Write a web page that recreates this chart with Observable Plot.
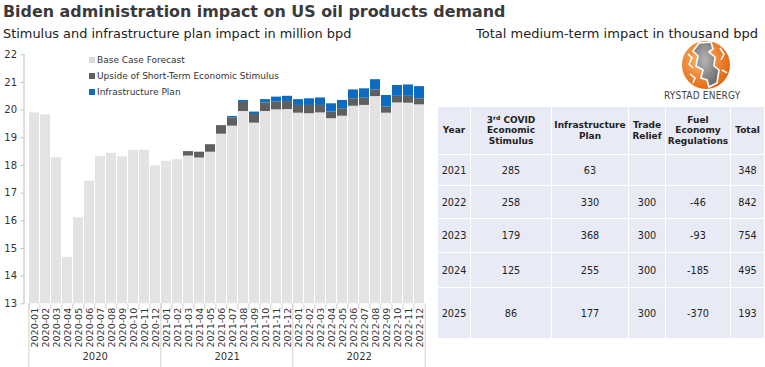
<!DOCTYPE html>
<html><head><meta charset="utf-8">
<script src="https://cdn.jsdelivr.net/npm/d3@7"></script>
<script src="https://cdn.jsdelivr.net/npm/@observablehq/plot@0.6"></script>
<style>
body{margin:0;background:#fff;font-family:"DejaVu Sans",Verdana,sans-serif;color:#333;}
#wrap{position:relative;width:765px;height:367px;overflow:hidden;}
#title{position:absolute;left:3px;top:2px;font-weight:bold;font-size:15.9px;color:#3a3a3a;white-space:nowrap;}
#sub{position:absolute;left:3px;top:26px;font-size:12.9px;color:#222;white-space:nowrap;}
#sub2{position:absolute;left:476px;top:26px;font-size:13px;color:#222;white-space:nowrap;}
#chart{position:absolute;left:0;top:46px;}
#legend{position:absolute;left:89px;top:54px;font-size:9px;color:#333;}
#legend div{height:16px;line-height:12px;white-space:nowrap;}
#legend span.sw{display:inline-block;width:6px;height:6px;margin-right:2px;vertical-align:0px;}
#logo{position:absolute;left:680px;top:40px;}
#brand{position:absolute;left:664px;top:90px;font-family:"DejaVu Sans Condensed","DejaVu Sans",sans-serif;font-size:10px;color:#444;letter-spacing:0.2px;white-space:nowrap;}
#tbl{position:absolute;left:437px;top:106px;border-collapse:collapse;table-layout:fixed;width:327px;}
#tbl td,#tbl th{background:#e8ebf5;border:1.5px solid #fff;text-align:center;padding:0;color:#222;}
#tbl th{font-size:9px;font-weight:bold;line-height:10.5px;}
#tbl td{font-size:9.7px;}
#tbl sup{font-size:6px;vertical-align:3px;line-height:0;}
</style></head>
<body><div id="wrap">
<div id="title">Biden administration impact on US oil products demand</div>
<div id="sub">Stimulus and infrastructure plan impact in million bpd</div>
<div id="sub2">Total medium-term impact in thousand bpd</div>
<div id="chart"></div>
<div id="legend"></div>
<svg id="logo" width="54" height="52" viewBox="0 0 54 52">
<defs><radialGradient id="og" cx="40%" cy="40%" r="65%"><stop offset="0" stop-color="#fcb66e"/><stop offset="1" stop-color="#e2630d"/></radialGradient>
<radialGradient id="gg" cx="45%" cy="40%" r="60%"><stop offset="0" stop-color="#b5b5b5"/><stop offset="1" stop-color="#6e6e6e"/></radialGradient></defs>
<circle cx="26" cy="25" r="24" fill="url(#og)"/>
<path d="M19 3 L31 2 L33 9 L29 12 L35 17 L34 26 L39 30 L37 43 L29 47 L27 40 L21 38 L23 30 L16 26 L18 16 L13 11 Z" fill="url(#gg)" stroke="#fff" stroke-width="1.6"/>
<path d="M8 14 L12 18 L9 24 L13 28 M40 8 L44 14 L41 20 M42 30 L47 33 M10 34 L15 38 L13 43" fill="none" stroke="#fff" stroke-width="1.6"/>
</svg>
<div id="brand">RYSTAD ENERGY</div>
<table id="tbl"></table>
</div>
<script>
// ---- chart data ----
const months = ["2020-01","2020-02","2020-03","2020-04","2020-05","2020-06","2020-07","2020-08","2020-09","2020-10","2020-11","2020-12",
"2021-01","2021-02","2021-03","2021-04","2021-05","2021-06","2021-07","2021-08","2021-09","2021-10","2021-11","2021-12",
"2022-01","2022-02","2022-03","2022-04","2022-05","2022-06","2022-07","2022-08","2022-09","2022-10","2022-11","2022-12"];
const baseCase = [19.90,19.83,18.28,14.68,16.11,17.43,18.32,18.44,18.31,18.55,18.55,17.99,
18.15,18.21,18.34,18.27,18.48,19.13,19.42,19.95,19.53,19.95,20.01,20.02,
19.89,19.87,19.90,19.69,19.78,20.14,20.17,20.49,19.89,20.26,20.25,20.19];
const stimulusUpside = [0,0,0,0,0,0,0,0,0,0,0,0,
0,0,0.16,0.21,0.27,0.31,0.30,0.33,0.31,0.31,0.29,0.29,
0.28,0.30,0.27,0.24,0.27,0.27,0.26,0.24,0.22,0.24,0.25,0.22];
const infrastructure = [0,0,0,0,0,0,0,0,0,0,0,0,
0,0,0,0,0,0,0.05,0.07,0.09,0.12,0.17,0.19,
0.21,0.24,0.27,0.30,0.30,0.32,0.34,0.37,0.42,0.39,0.41,0.44];
const seriesNames = ["Base Case Forecast","Upside of Short-Term Economic Stimulus","Infrastructure Plan"];
const seriesColors = ["#e4e2e4","#5f5f5f","#0b6cc1"];
const legendColors = ["#dcdadc","#5f5f5f","#0b6cc1"];
const yTicks = [13,14,15,16,17,18,19,20,21,22];
const yearStarts = ["2020-01","2021-01","2022-01"];
const yearMids = ["2020-06","2021-06","2022-06"];
const yearLabels = ["2020","2021","2022"];

// ---- table data ----
const tblHeaders = ["Year","3<sup>rd</sup> COVID<br>Economic<br>Stimulus","Infrastructure<br>Plan","Trade<br>Relief","Fuel<br>Economy<br>Regulations","Total"];
const tblYears = ["2021","2022","2023","2024","2025"];
const tblStimulus = [285,258,179,125,86];
const tblInfra = [63,330,368,255,177];
const tblTrade = [null,300,300,300,300];
const tblFuel = [null,-46,-93,-185,-370];
const tblTotal = [348,842,754,495,193];

const rows = [];
months.forEach((m,i)=>{
  rows.push({month:m, series:seriesNames[0], value:baseCase[i]});
  rows.push({month:m, series:seriesNames[1], value:stimulusUpside[i]});
  rows.push({month:m, series:seriesNames[2], value:infrastructure[i]});
});

const W = 440, H = 321, mL = 23.5, mR = 10.5;
const pIn = 0.1, pOut = 0.05;
const step = (W - mL - mR) / (months.length - pIn + 2*pOut);
const half = step/2;

const chart = Plot.plot({
  width: W, height: H,
  marginTop: 8.3, marginBottom: 63.7, marginLeft: mL, marginRight: mR,
  style: {fontFamily: "'DejaVu Sans', sans-serif", fontSize: "10px", color: "#333", background: "transparent"},
  x: {domain: months, paddingInner: pIn, paddingOuter: pOut, axis: null, label: null},
  y: {domain: [13, 22], axis: null, label: null},
  color: {domain: seriesNames, range: seriesColors},
  marks: [
    Plot.barY(rows, {x: "month", y: "value", fill: "series", order: seriesNames, clip: true}),
    Plot.frame({anchor: "left", stroke: "#bdbdbd"}),
    Plot.axisY(yTicks, {label: null, tickSize: 3, tickPadding: 4, stroke: "#bdbdbd", fill: "#333", fontSize: 10}),
    Plot.axisX(months, {label: null, tickSize: 0, tickPadding: 4, tickRotate: -90, fontSize: 9.5, fill: "#333"}),
    Plot.axisX(months, {label: null, text: null, tickSize: 6, dx: -half, stroke: "#d0d0d0"}),
    Plot.axisX(yearStarts, {label: null, text: null, tickSize: 64, dx: -half, stroke: "#d0d0d0"}),
    Plot.axisX([months[months.length-1]], {label: null, text: null, tickSize: 64, dx: half, stroke: "#d0d0d0"}),
    Plot.axisX(yearMids, {label: null, tickSize: 0, tickPadding: 49, dx: half, fontSize: 10, fill: "#333",
      tickFormat: d => yearLabels[yearMids.indexOf(d)]})
  ]
});
document.getElementById("chart").appendChild(chart);

// legend
const lg = document.getElementById("legend");
seriesNames.forEach((s,i)=>{
  const d = document.createElement("div");
  d.innerHTML = `<span class="sw" style="background:${legendColors[i]}"></span>${s}`;
  lg.appendChild(d);
});

// table
const tbl = document.getElementById("tbl");
const colW = [33,81,77,37,65,34];
const cg = document.createElement("colgroup");
colW.forEach(w=>{const c=document.createElement("col");c.style.width=w+"px";cg.appendChild(c);});
tbl.appendChild(cg);
const rowH = [48,31,33,34,35,51];
const hr = document.createElement("tr");
hr.style.height = rowH[0]+"px";
tblHeaders.forEach(h=>{const th=document.createElement("th");th.innerHTML=h;hr.appendChild(th);});
tbl.appendChild(hr);
tblYears.forEach((y,i)=>{
  const tr=document.createElement("tr");
  tr.style.height=rowH[i+1]+"px";
  [y,tblStimulus[i],tblInfra[i],tblTrade[i],tblFuel[i],tblTotal[i]].forEach(v=>{
    const td=document.createElement("td");td.textContent = v==null ? "" : v;tr.appendChild(td);
  });
  tbl.appendChild(tr);
});
</script>
</body></html>
